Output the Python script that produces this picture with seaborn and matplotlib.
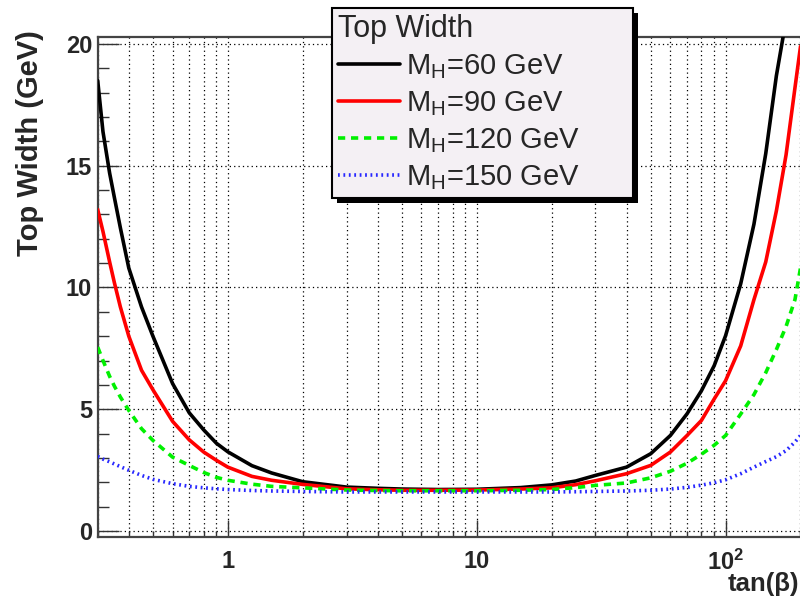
import numpy as np
import pandas as pd
import matplotlib
matplotlib.use("Agg")
import matplotlib.pyplot as plt
from matplotlib.lines import Line2D
from matplotlib.patches import Rectangle
from matplotlib.ticker import FixedLocator, NullFormatter
import seaborn as sns

# ---------------- data ----------------
tan_beta = [0.3, 0.315, 0.335, 0.35, 0.37, 0.4, 0.45, 0.5, 0.6, 0.7, 0.8, 0.9, 1.0,
            1.25, 1.5, 2, 3, 4, 5, 7, 10, 15, 20, 25, 30, 40, 50, 60, 70, 80, 90,
            100, 115, 130, 145, 160, 175, 190, 200]
width_mh60 = [18.5, 16.4, 14.7, 13.7, 12.45, 10.8, 9.2, 8.0, 6.05, 4.85, 4.15, 3.6, 3.25,
              2.68, 2.38, 2.02, 1.8, 1.75, 1.72, 1.70, 1.71, 1.78, 1.89, 2.05, 2.28, 2.62,
              3.17, 3.92, 4.81, 5.76, 6.79, 8.02, 10.15, 12.6, 15.5, 18.7, 21.0, 23.5, 25.0]
width_mh90 = [13.2, 12.3, 11.05, 10.2, 9.2, 8.0, 6.6, 5.8, 4.5, 3.74, 3.24, 2.9, 2.62,
              2.24, 2.08, 1.91, 1.73, 1.69, 1.67, 1.67, 1.68, 1.72, 1.77, 1.9, 2.06, 2.35,
              2.69, 3.24, 3.92, 4.54, 5.42, 6.17, 7.6, 9.5, 11.05, 13.15, 15.45, 18.2, 19.9]
width_mh120 = [7.55, 7.0, 6.35, 5.95, 5.5, 4.95, 4.2, 3.72, 3.03, 2.69, 2.4, 2.2, 2.08,
               1.92, 1.83, 1.77, 1.68, 1.66, 1.65, 1.65, 1.65, 1.67, 1.70, 1.78, 1.87, 1.97,
               2.18, 2.45, 2.78, 3.15, 3.52, 3.92, 4.8, 5.6, 6.5, 7.45, 8.4, 9.5, 10.8]
width_mh150 = [3.06, 2.95, 2.84, 2.75, 2.64, 2.49, 2.28, 2.12, 1.94, 1.83, 1.77, 1.73, 1.70,
               1.66, 1.64, 1.62, 1.60, 1.60, 1.60, 1.60, 1.60, 1.60, 1.60, 1.61, 1.62, 1.64,
               1.67, 1.72, 1.79, 1.88, 1.98, 2.1, 2.35, 2.62, 2.85, 3.05, 3.3, 3.65, 3.92]
series_labels = [r"M$_{\mathrm{H}}$=60 GeV", r"M$_{\mathrm{H}}$=90 GeV",
                 r"M$_{\mathrm{H}}$=120 GeV", r"M$_{\mathrm{H}}$=150 GeV"]
legend_title = "Top Width"
x_label = "tan(β)"
y_label = "Top Width (GeV)"
y_tick_values = [0, 5, 10, 15, 20]
x_major_ticks = [1, 10, 100]
x_major_labels = ["1", "10", r"$\mathbf{10^{2}}$"]

# ---------------- style ----------------
sns.set_theme(style="white")
plt.rcParams["font.family"] = ["Liberation Sans", "DejaVu Sans"]
plt.rcParams["mathtext.fontset"] = "custom"
plt.rcParams["mathtext.rm"] = "Liberation Sans"
plt.rcParams["mathtext.it"] = "Liberation Sans:italic"
plt.rcParams["mathtext.bf"] = "Liberation Sans:bold"

colors = {series_labels[0]: "#000000", series_labels[1]: "#ff0000",
          series_labels[2]: "#00f000", series_labels[3]: "#2828ff"}
dashes = {series_labels[0]: "", series_labels[1]: "",
          series_labels[2]: (2.0, 1.6), series_labels[3]: (0.5, 1.0)}
lw = 2.6

df = pd.concat([
    pd.DataFrame({"tanb": tan_beta, "width": w, "series": lab})
    for w, lab in zip([width_mh60, width_mh90, width_mh120, width_mh150], series_labels)
], ignore_index=True)

fig = plt.figure(figsize=(8, 5.96), dpi=100)
ax = fig.add_axes([97.7 / 800, 59 / 596, (800.5 - 97.7) / 800, 500 / 596])

sns.lineplot(data=df, x="tanb", y="width", hue="series", style="series",
             palette=colors, dashes=dashes, linewidth=lw, legend=False,
             sort=True, ax=ax, zorder=3)

ax.set_xscale("log")
ax.set_xlim(0.3, 200)
ax.set_ylim(-0.25, 20.29)

# ticks
ax.set_xticks(x_major_ticks)
ax.set_xticklabels(x_major_labels)
minor_x = [m * 10.0 ** e for e in (-1, 0, 1, 2) for m in range(2, 10)]
minor_x = [v for v in minor_x if 0.3 <= v <= 200]
ax.xaxis.set_minor_locator(FixedLocator(minor_x))
ax.xaxis.set_minor_formatter(NullFormatter())
ax.set_yticks(y_tick_values)
ax.set_yticklabels([str(v) for v in y_tick_values])
ax.yaxis.set_minor_locator(FixedLocator(list(range(0, 21))))

tick_col = "#333333"
ax.tick_params(axis="x", which="major", direction="in", length=12.5, width=1,
               color=tick_col, pad=9, labelsize=17, bottom=True, top=False)
ax.tick_params(axis="x", which="minor", direction="in", length=4.5, width=1,
               color=tick_col, bottom=True, top=False)
ax.tick_params(axis="y", which="major", direction="in", length=15, width=1,
               color=tick_col, pad=4, labelsize=17, left=True, right=False)
ax.tick_params(axis="y", which="minor", direction="in", length=8, width=1,
               color=tick_col, left=True, right=False)
for lab in ax.get_xticklabels() + ax.get_yticklabels():
    lab.set_fontweight("bold")

# grid
grid_style = dict(color="black", linestyle=(0, (1, 2.5)), linewidth=0.9)
ax.grid(True, axis="x", which="both", **grid_style)
ax.grid(True, axis="y", which="major", **grid_style)
ax.set_axisbelow(True)

for side in ("left", "bottom", "top"):
    ax.spines[side].set_color("#444444")
    ax.spines[side].set_linewidth(1.6)
ax.spines["right"].set_visible(False)
ax.set_xlabel("")
ax.set_ylabel("")

# axis titles
fig.text(30 / 800, 1 - 30 / 596, y_label, rotation=90, ha="center", va="top",
         fontsize=21, fontweight="bold")
fig.text(799.5 / 800, 1 - 591 / 596, x_label, ha="right", va="baseline",
         fontsize=18.5, fontweight="bold")

# legend
handles = []
for l in series_labels:
    h = Line2D([], [], color=colors[l], linewidth=lw)
    if dashes[l] == "":
        h.set_linestyle("-")
    else:
        h.set_dashes(dashes[l])
    handles.append(h)
leg = fig.legend(handles, series_labels, title=legend_title,
                 loc="upper left",
                 bbox_to_anchor=(332 / 800, 1 - 7.5 / 596, 301 / 800, 0),
                 mode="expand", alignment="left", fontsize=21,
                 title_fontsize=22, frameon=True, fancybox=False,
                 edgecolor="black", facecolor="#f4f0f4", framealpha=1,
                 borderpad=0.22, labelspacing=0.28, handlelength=2.1,
                 handletextpad=0.22, borderaxespad=0)
leg.get_frame().set_linewidth(1.5)
leg.set_zorder(5)

fig.canvas.draw()
bb = leg.get_window_extent().transformed(fig.transFigure.inverted())
off_x, off_y = 5 / 800, 5 / 596
shadow = Rectangle((bb.x0 + off_x, bb.y0 - off_y), bb.width, bb.height,
                   transform=fig.transFigure, facecolor="black",
                   edgecolor="none", zorder=4)
fig.patches.append(shadow)

fig.savefig("out.png", dpi=100)
